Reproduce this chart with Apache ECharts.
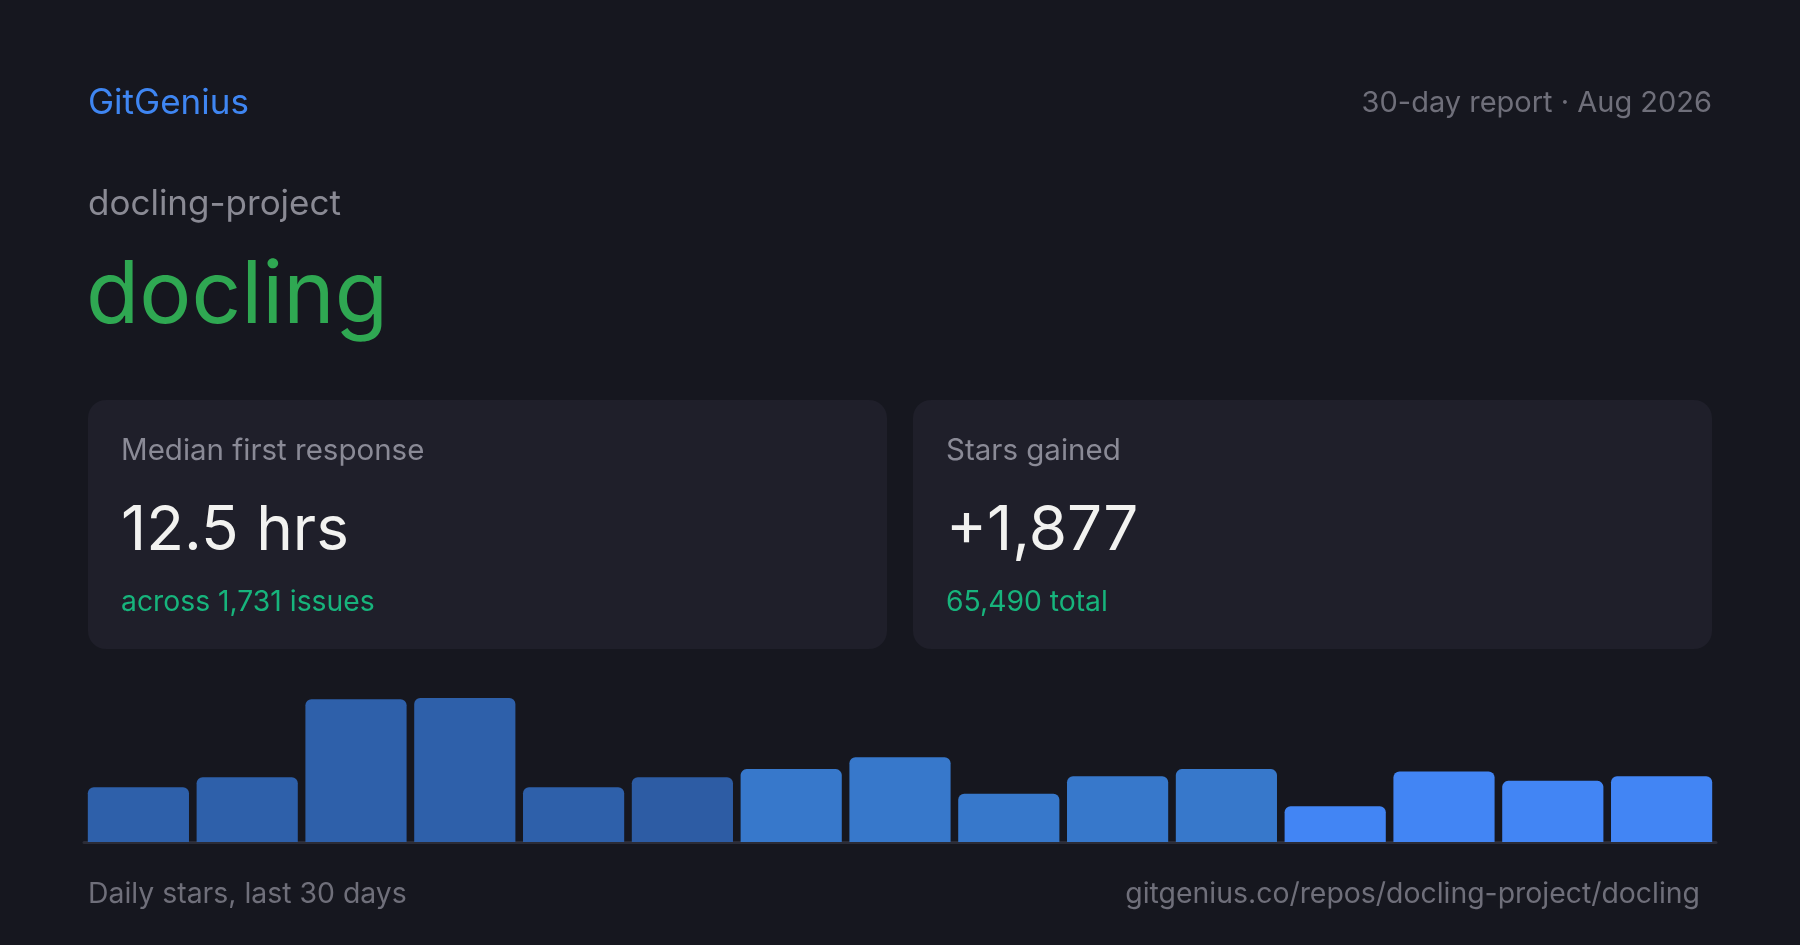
<!DOCTYPE html>
<html>
<head>
<meta charset="utf-8">
<title>docling – GitGenius 30-day report</title>
<script src="https://cdn.jsdelivr.net/npm/echarts@6/dist/echarts.min.js"></script>
<style>
  html, body { margin: 0; padding: 0; background: #16171f; }
  #chart { width: 1800px; height: 945px; }
</style>
</head>
<body>
<div id="chart"></div>
<script>
// ---- data ----
const categories = ['Day 1–2', 'Day 3–4', 'Day 5–6', 'Day 7–8', 'Day 9–10', 'Day 11–12', 'Day 13–14', 'Day 15–16', 'Day 17–18', 'Day 19–20', 'Day 21–22', 'Day 23–24', 'Day 25–26', 'Day 27–28', 'Day 29–30'];
const starValues = [93, 110, 243, 245, 93, 110, 124, 144, 82, 112, 124, 61, 120, 104, 112];
const brand = 'GitGenius';
const reportLabel = '30-day report · Aug 2026';
const owner = 'docling-project';
const repo = 'docling';
const statLabels = ['Median first response', 'Stars gained'];
const statValues = ['12.5 hrs', '+1,877'];
const statNotes = ['across 1,731 issues', '65,490 total'];
const footerLeft = 'Daily stars, last 30 days';
const footerRight = 'gitgenius.co/repos/docling-project/docling';

// ---- styles ----
const FONT = 'Inter, "Noto Sans", sans-serif';
const tierColors = ['#2e60aa', '#2d5ca4', '#3778cb', '#4285f4'];
function barColor(i) {
  if (i < 5) return tierColors[0];
  if (i === 5) return tierColors[1];
  if (i < 11) return tierColors[2];
  return tierColors[3];
}

function txt(x, y, text, size, color, align) {
  return {
    type: 'text', x: x, y: y, silent: true,
    style: {
      text: text, fill: color, font: size + 'px ' + FONT,
      align: align || 'left', verticalAlign: 'middle'
    }
  };
}

const cardW = 799, cardH = 249, cardY = 400;
const cardX = [88, 913];
const graphics = [];
cardX.forEach(function (cx, i) {
  graphics.push({
    type: 'rect', silent: true, z: -10,
    shape: { x: cx, y: cardY, width: cardW, height: cardH, r: 18 },
    style: { fill: '#1f1f2a' }
  });
  graphics.push(txt(cx + 33, 451, statLabels[i], 29.5, '#8a8a96'));
  graphics.push(txt(cx + 33, 531.5, statValues[i], 62, '#f2f2f0'));
  graphics.push(txt(cx + 33, 602.5, statNotes[i], 28.3, '#17b47c'));
});
graphics.push(txt(88, 103.5, brand, 35, '#3f86f2'));
graphics.push(txt(1712, 103.3, reportLabel, 29, '#6f6f7a', 'right'));
graphics.push(txt(88, 204.5, owner, 35, '#8a8a94'));
graphics.push(txt(86, 297, repo, 87, '#2fa852'));
graphics.push(txt(88, 894.5, footerLeft, 28.4, '#6f6f7a'));
graphics.push(txt(1700, 894.5, footerRight, 28.4, '#6f6f7a', 'right'));

const chart = echarts.init(document.getElementById('chart'), null, { renderer: 'canvas' });
chart.setOption({
  backgroundColor: '#16171f',
  animation: false,
  graphic: graphics,
  grid: { left: 84, right: 84, top: 698, bottom: 103 },
  xAxis: {
    type: 'category',
    data: categories,
    axisLine: { show: true, lineStyle: { color: '#2b2c37', width: 3 } },
    axisTick: { show: false },
    axisLabel: { show: false },
    splitLine: { show: false }
  },
  yAxis: {
    type: 'value', min: 0, max: 245, show: false,
    splitLine: { show: false }
  },
  series: [{
    type: 'bar',
    data: starValues,
    barCategoryGap: '7%',
    itemStyle: {
      borderRadius: [6, 6, 0, 0],
      color: function (p) { return barColor(p.dataIndex); }
    }
  }]
});
</script>
</body>
</html>
